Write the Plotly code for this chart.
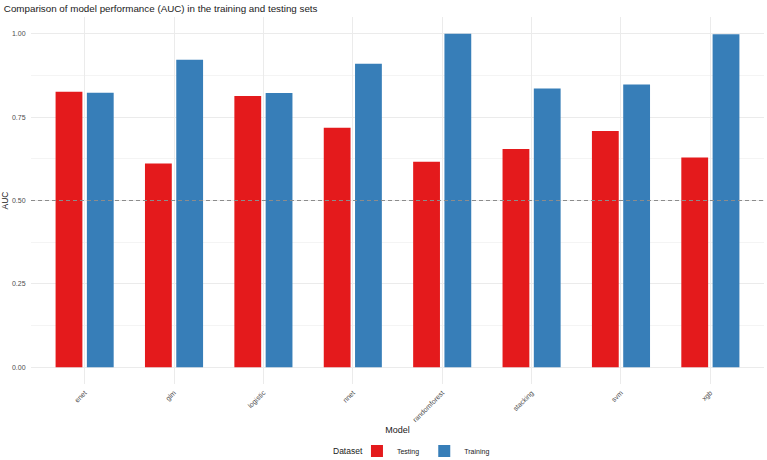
import plotly.graph_objects as go

models = ["enet", "glm", "logistic", "nnet", "randomforest", "stacking", "svm", "xgb"]
testing_auc = [0.826, 0.611, 0.813, 0.718, 0.616, 0.654, 0.708, 0.629]
training_auc = [0.823, 0.922, 0.822, 0.910, 1.000, 0.836, 0.848, 0.998]
datasets = ["Testing", "Training"]
colors = ["#E41A1C", "#377EB8"]

FONT = "Liberation Sans, Arial, sans-serif"

fig = go.Figure()
for name, vals, col in zip(datasets, [testing_auc, training_auc], colors):
    fig.add_trace(go.Bar(x=models, y=vals, name=name, marker=dict(color=col, line=dict(width=0))))

fig.add_hline(y=0.5, line=dict(color="#8c8c8c", width=1, dash="4px,3px"))

fig.add_annotation(text="Dataset", xref="paper", yref="paper", x=0.4557, y=-0.1826,
                   xanchor="right", yanchor="middle", showarrow=False,
                   font=dict(family=FONT, size=8.5, color="#1a1a1a"))

fig.update_layout(
    width=767, height=460,
    margin=dict(l=31, r=3, t=17, b=76, autoexpand=False),
    paper_bgcolor="white", plot_bgcolor="white",
    barmode="group", bargap=0.3, bargroupgap=0.143,
    font=dict(family=FONT, size=7, color="#4d4d4d"),
    title=dict(text="Comparison of model performance (AUC) in the training and testing sets",
               x=0.005, xanchor="left", y=0.988, yanchor="top",
               font=dict(family=FONT, size=9.8, color="#1a1a1a")),
    legend=dict(orientation="h", x=0.4447, xanchor="left", y=-0.1826, yanchor="middle",
                font=dict(size=7, color="#1a1a1a"), itemwidth=30, tracegroupgap=0),
)
fig.update_xaxes(
    automargin=True,
    range=[-0.6, 7.6],
    showgrid=True, gridcolor="#ebebeb", gridwidth=1,
    tickangle=-45, tickfont=dict(size=7, color="#4d4d4d"),
    ticks="outside", ticklen=1, tickcolor="rgba(0,0,0,0)",
    zeroline=False, showline=False,
    title=dict(text="Model", font=dict(size=9, color="#1a1a1a"), standoff=4),
)
fig.update_yaxes(
    automargin=False,
    range=[-0.05, 1.05], tickvals=[0, 0.25, 0.5, 0.75, 1.0], tickformat=".2f",
    showgrid=True, gridcolor="#ebebeb", gridwidth=1,
    minor=dict(tickvals=[0.125, 0.375, 0.625, 0.875], showgrid=True, gridcolor="#f4f4f4", gridwidth=1),
    zeroline=False, showline=False, ticks="outside", ticklen=3, tickcolor="rgba(0,0,0,0)",
    tickfont=dict(size=7, color="#4d4d4d"),
    title=dict(text="AUC", font=dict(size=8.5, color="#1a1a1a"), standoff=2),
)
fig.write_html("out.html")
